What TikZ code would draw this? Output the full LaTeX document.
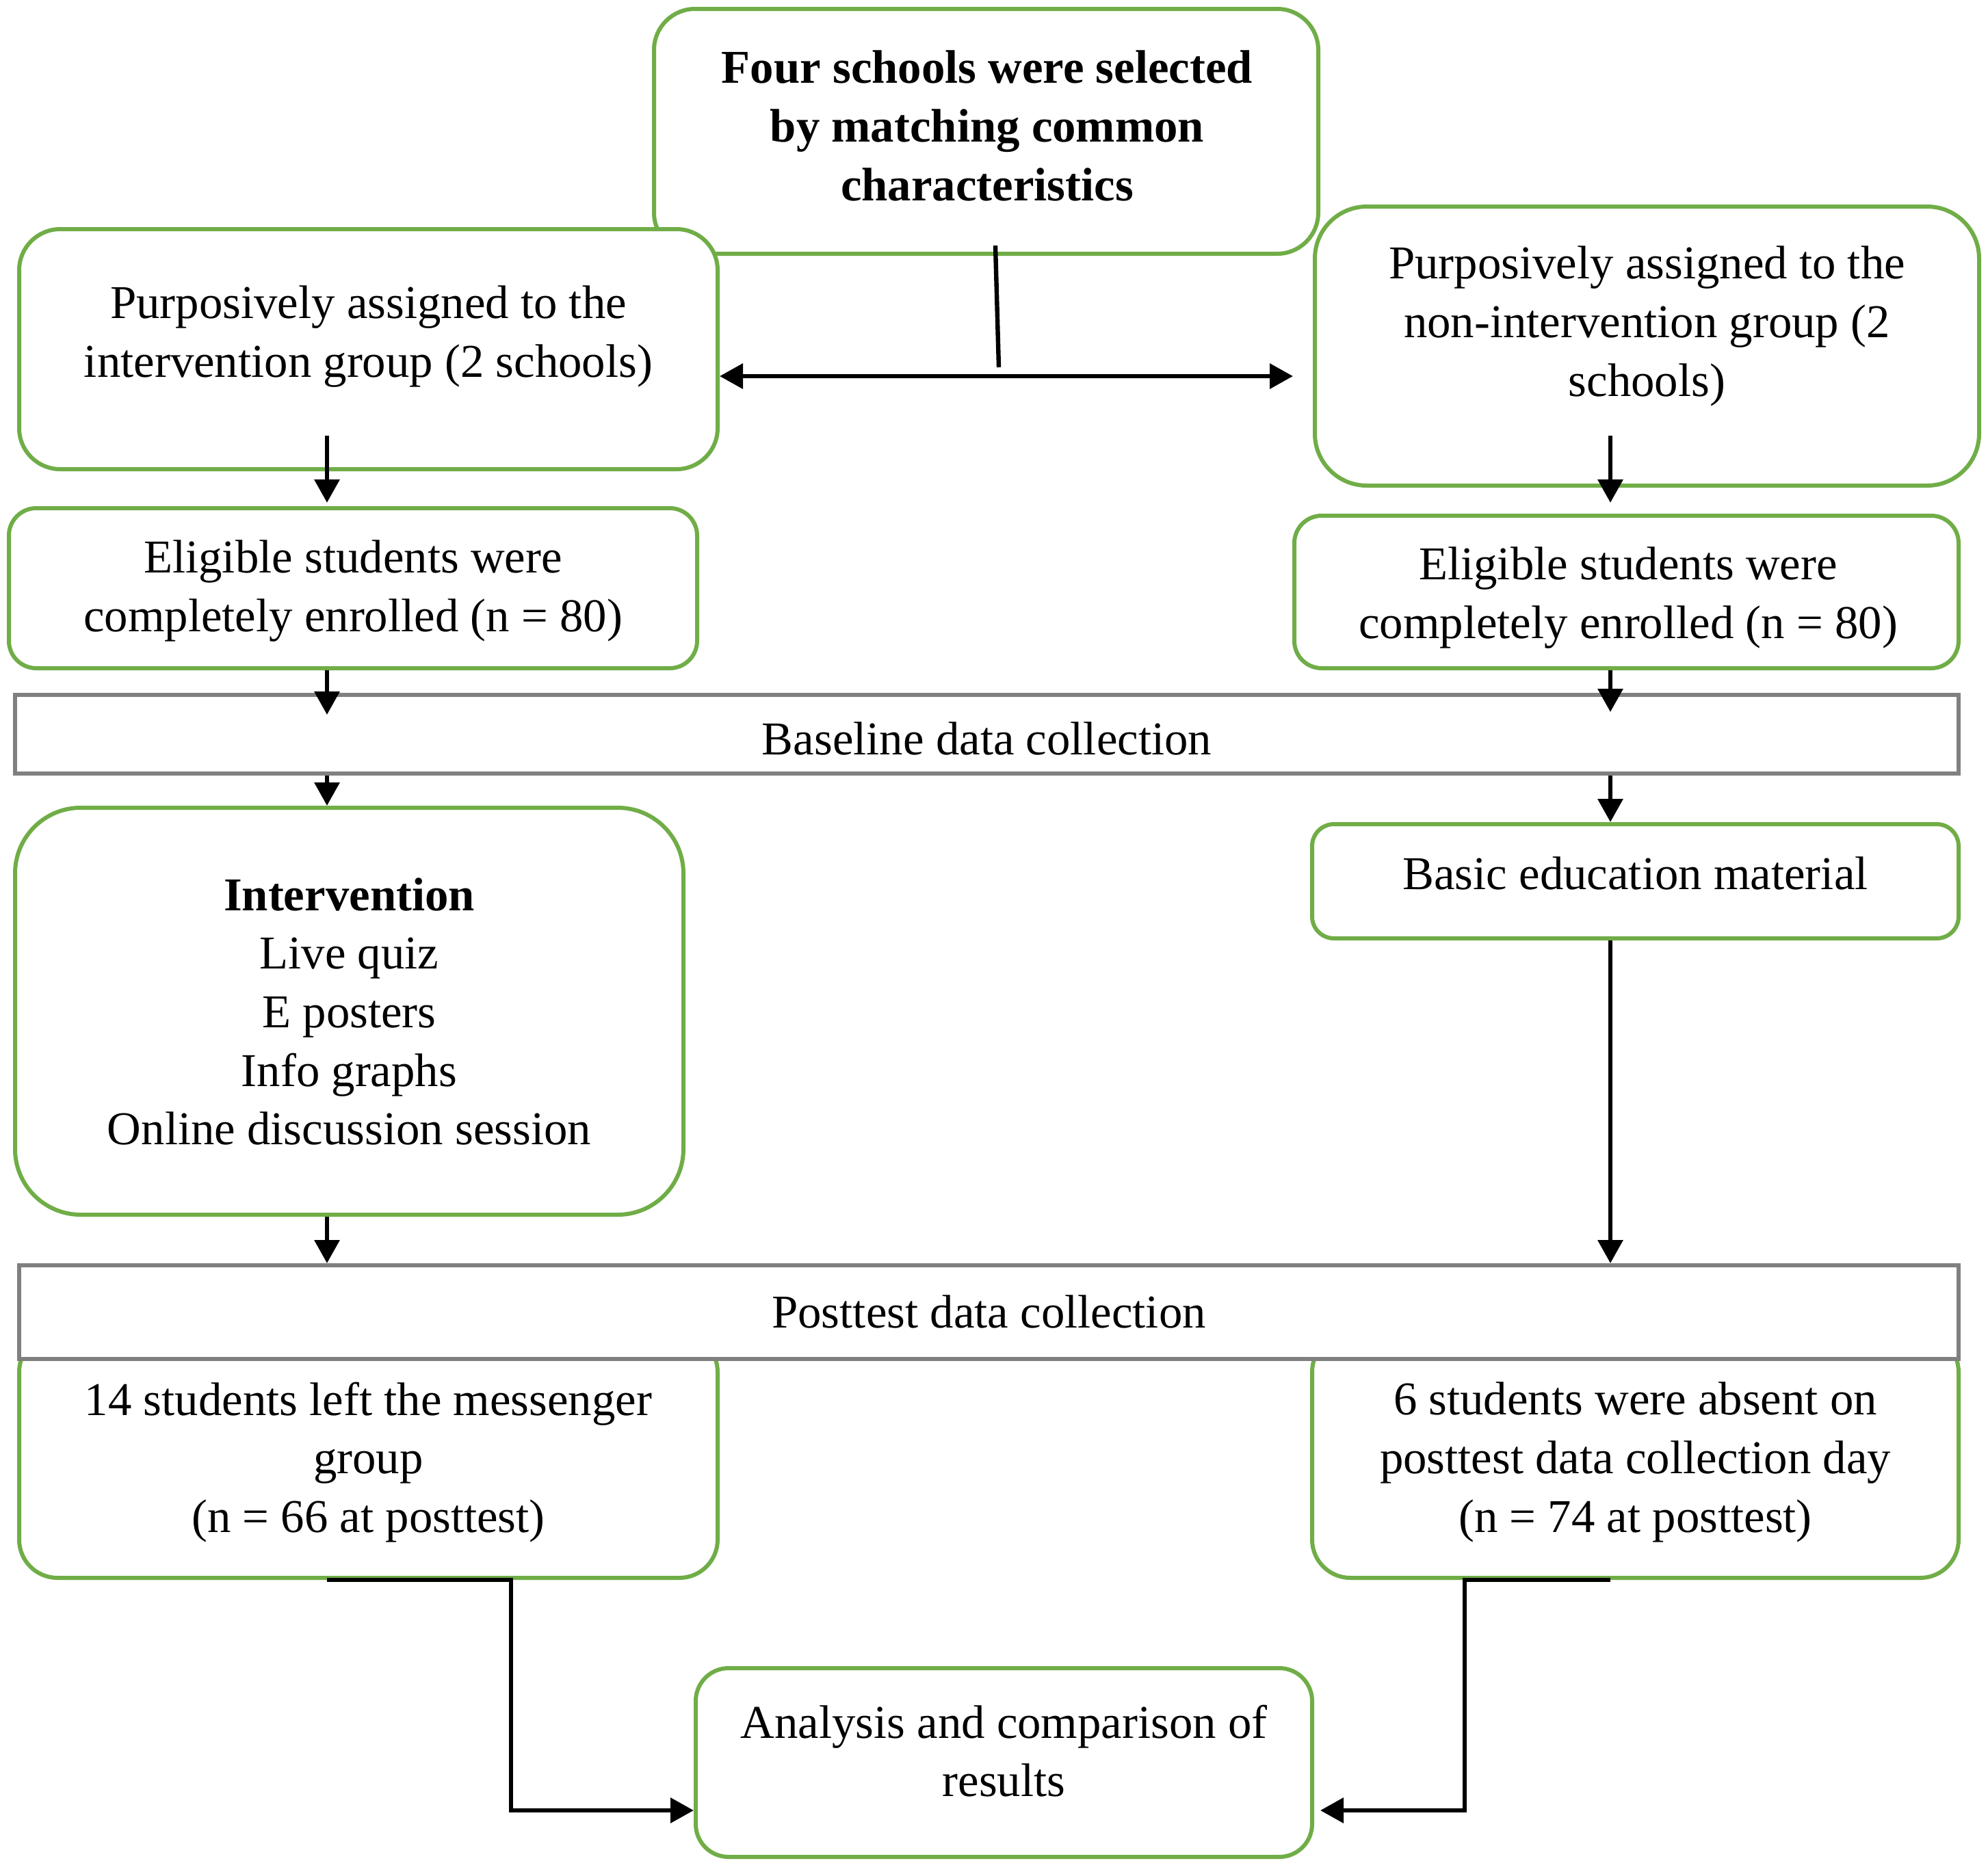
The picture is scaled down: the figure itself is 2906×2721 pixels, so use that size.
\documentclass[tikz,border=0pt]{standalone}
\usepackage{fontspec}
\setmainfont{Liberation Serif}
\usetikzlibrary{arrows.meta,calc}
\definecolor{grn}{HTML}{70AD47}
\definecolor{gry}{HTML}{808080}
\begin{document}
\begin{tikzpicture}[x=0.25pt,y=-0.25pt,
  gbox/.style={draw=grn,line width=1.5pt,fill=white,rectangle,inner sep=0pt},
  pbox/.style={draw=gry,line width=1.5pt,fill=white,rectangle,inner sep=0pt},
  txt/.style={align=center,inner sep=0pt,font=\fontsize{17.2pt}{21.4pt}\selectfont},
  arr/.style={line width=1.6pt,-{Triangle[length=8.5pt,width=9pt]}},
  dbl/.style={line width=1.6pt,{Triangle[length=8.5pt,width=9pt]}-{Triangle[length=8.5pt,width=9pt]}},
  lin/.style={line width=1.6pt}]
\useasboundingbox (0,0) rectangle (2906,2721);
\coordinate (colL) at (478,0);
\coordinate (colR) at (2354,0);
\coordinate (midL) at (747,0);
\coordinate (midR) at (2141,0);

% top box
\node[gbox,rounded corners=15pt,minimum width=971*0.25pt,minimum height=358*0.25pt] (top) at (1441.5,192) {};
\node[txt,font=\fontsize{17.2pt}{21.4pt}\selectfont\bfseries] (topt) at (1443,184) {Four schools were selected\\by matching common\\characteristics};
% left1 / right1
\node[gbox,rounded corners=15pt,minimum width=1021*0.25pt,minimum height=351*0.25pt] (left1) at (538.5,510.5) {};
\node[txt] (left1t) at (538.5,492) {Purposively assigned to the\\intervention group (2 schools)};
\node[gbox,rounded corners=19pt,minimum width=971*0.25pt,minimum height=408*0.25pt] (right1) at (2407.5,506) {};
\node[txt] (right1t) at (2407.5,477) {Purposively assigned to the\\non-intervention group (2\\schools)};
% vertical split line and double arrow
\coordinate (split) at (1460,550);
\coordinate (rend) at (1890,550);
\draw[lin] ($(top.south)+(13.5,-15)$) -- ($(split)+(0,-13)$);
\draw[dbl] (left1.east |- split) -- (rend);

% eligible
\node[gbox,rounded corners=10pt,minimum width=1006*0.25pt,minimum height=234*0.25pt] (elL) at (516,860) {};
\node[txt] (elLt) at (516,864) {Eligible students were\\completely enrolled (n = 80)};
\node[gbox,rounded corners=10pt,minimum width=971*0.25pt,minimum height=223*0.25pt] (elR) at (2377.5,865.5) {};
\node[txt] (elRt) at (2380,874) {Eligible students were\\completely enrolled (n = 80)};
\draw[arr] ($(left1.south -| colL)+(0,-52)$) -- ($(elL.north -| colL)+(0,-5)$);
\draw[arr] ($(right1.south -| colR)+(0,-76)$) -- ($(elR.north -| colR)+(0,-16)$);

% baseline
\node[pbox,minimum width=2841*0.25pt,minimum height=115*0.25pt] (base) at (1442.5,1073.5) {};
\node[txt] (baset) at (1442.5,1080) {Baseline data collection};
\draw[arr] (elL.south -| colL) -- ($(base.north -| colL)+(0,32)$);
\draw[arr] (elR.south -| colR) -- ($(base.north -| colR)+(0,28)$);

% intervention & basic
\node[gbox,rounded corners=24pt,minimum width=977*0.25pt,minimum height=595*0.25pt] (interv) at (510.5,1478.5) {};
\node[txt] (intervt) at (510.5,1479) {\textbf{Intervention}\\Live quiz\\E posters\\Info graphs\\Online discussion session};
\node[gbox,rounded corners=8pt,minimum width=945*0.25pt,minimum height=167*0.25pt] (basic) at (2390.5,1288.5) {};
\node[txt] (basict) at (2390.5,1277) {Basic education material};
\draw[arr] (base.south -| colL) -- (interv.north -| colL);
\draw[arr] (base.south -| colR) -- (basic.north -| colR);

% bottom boxes (under posttest)
\node[gbox,rounded corners=14pt,minimum width=1021*0.25pt,minimum height=357*0.25pt] (botL) at (538.5,2128.5) {};
\node[txt] (botLt) at (538.5,2138) {14 students left the messenger\\group\\(n = 66 at posttest)};
\node[gbox,rounded corners=14pt,minimum width=945*0.25pt,minimum height=357*0.25pt] (botR) at (2390.5,2128.5) {};
\node[txt] (botRt) at (2390.5,2138) {6 students were absent on\\posttest data collection day\\(n = 74 at posttest)};

% posttest
\node[pbox,minimum width=2835*0.25pt,minimum height=137*0.25pt] (post) at (1445.5,1918.5) {};
\node[txt] (postt) at (1445.5,1918) {Posttest data collection};
\draw[arr] (interv.south -| colL) -- (post.north -| colL);
\draw[arr] (basic.south -| colR) -- (post.north -| colR);

% analysis
\node[gbox,rounded corners=12pt,minimum width=901*0.25pt,minimum height=276*0.25pt] (anal) at (1467.5,2577) {};
\node[txt] (analt) at (1467.5,2560) {Analysis and comparison of\\results};
\coordinate (arow) at (0,2647);
\draw[arr] (botL.south -| colL) -- (botL.south -| midL) -- (arow -| midL) -- (arow -| anal.west);
\draw[arr] (botR.south -| colR) -- (botR.south -| midR) -- (arow -| midR) -- ($(arow -| anal.east)+(9,0)$);
\end{tikzpicture}
\end{document}
